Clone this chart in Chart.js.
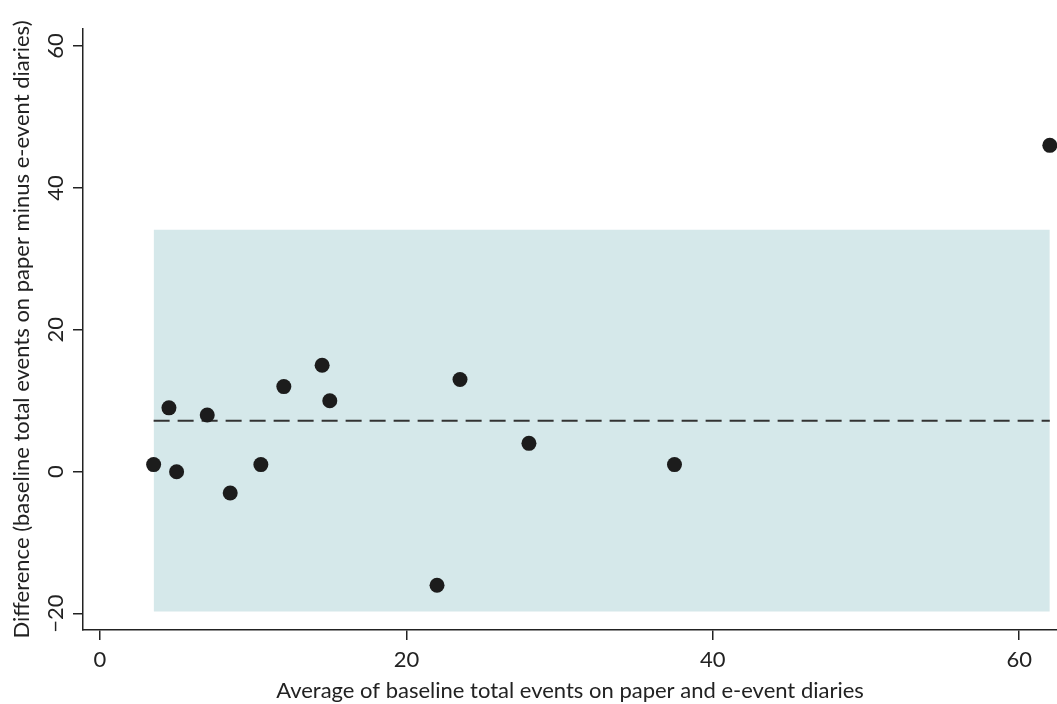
<!DOCTYPE html>
<html>
<head>
<meta charset="utf-8">
<script src="https://cdn.jsdelivr.net/npm/chart.js@4.4.1/dist/chart.umd.min.js"></script>
<style>
  html, body { margin: 0; padding: 0; background: #fff; }
  #wrap { width: 1057px; height: 704px; }
</style>
</head>
<body>
<div id="wrap"><canvas id="chart" width="1057" height="704"></canvas></div>
<script>
// データ
const averages = [3.5, 4.5, 5, 7, 8.5, 10.5, 12, 14.5, 15, 22, 23.5, 28, 37.5, 62];
const differences = [1, 9, 0, 8, -3, 1, 12, 15, 10, -16, 13, 4, 1, 46];
const meanDiff = 7.2;
const upperLoA = 34.1;
const lowerLoA = -19.7;
const bandX = [3.5, 62];

const xTicks = [0, 20, 40, 60];
const xTickLabels = ['0', '20', '40', '60'];
const yTicks = [-20, 0, 20, 40, 60];
const yTickLabels = ['\u221220', '0', '20', '40', '60'];

const xTitle = 'Average of baseline total events on paper and e-event diaries';
const yTitle = 'Difference (baseline total events on paper minus e-event diaries)';

const FONT = 'Lato';
const TEXT = '#222';
const INK = '#1c1c1c';

const points = averages.map((x, i) => ({ x: x, y: differences[i] }));

// Y軸の目盛ラベル（縦書き）を描くプラグイン
const yTickLabelPlugin = {
  id: 'yTickLabels',
  afterDraw(chart) {
    const scale = chart.scales.y;
    const ctx = chart.ctx;
    ctx.save();
    ctx.font = '22px ' + FONT;
    ctx.fillStyle = TEXT;
    ctx.textAlign = 'center';
    ctx.textBaseline = 'middle';
    yTicks.forEach((v, i) => {
      const y = scale.getPixelForValue(v);
      ctx.save();
      ctx.translate(scale.right - 27, y);
      ctx.rotate(-Math.PI / 2);
      ctx.fillText(yTickLabels[i], 0, 0);
      ctx.restore();
    });
    ctx.restore();
  }
};

const ctx = document.getElementById('chart').getContext('2d');
new Chart(ctx, {
  type: 'scatter',
  data: {
    datasets: [
      {
        label: 'points',
        data: points,
        backgroundColor: INK,
        borderWidth: 0,
        pointRadius: 7.5,
        pointHoverRadius: 7.5,
        clip: false
      },
      {
        label: 'mean',
        type: 'line',
        data: bandX.map(x => ({ x: x, y: meanDiff })),
        borderColor: '#333',
        borderWidth: 2,
        borderDash: [16, 8],
        pointRadius: 0,
        fill: false
      },
      {
        label: 'upper',
        type: 'line',
        data: bandX.map(x => ({ x: x, y: upperLoA })),
        borderWidth: 0,
        borderColor: 'rgba(0,0,0,0)',
        pointRadius: 0,
        backgroundColor: '#d5e8ea',
        fill: '+1'
      },
      {
        label: 'lower',
        type: 'line',
        data: bandX.map(x => ({ x: x, y: lowerLoA })),
        borderWidth: 0,
        borderColor: 'rgba(0,0,0,0)',
        pointRadius: 0,
        fill: false
      }
    ]
  },
  options: {
    responsive: false,
    animation: false,
    devicePixelRatio: 1,
    layout: { autoPadding: false, padding: { top: 29, right: 0, bottom: 0, left: 0 } },
    plugins: {
      legend: { display: false },
      tooltip: { enabled: false }
    },
    scales: {
      x: {
        type: 'linear',
        position: 'bottom',
        min: -1.11,
        max: 62.47,
        afterBuildTicks: (scale) => { scale.ticks = xTicks.map(v => ({ value: v })); },
        afterFit: (scale) => {
          scale.height = 74;
          scale.paddingLeft = 0;
          scale.paddingRight = 0;
        },
        grid: { drawOnChartArea: false, drawTicks: true, tickLength: 10, color: TEXT, lineWidth: 1.5 },
        border: { display: true, color: TEXT, width: 1.5 },
        ticks: {
          font: { family: FONT, size: 22 },
          color: TEXT,
          padding: 7,
          maxRotation: 0,
          callback: (v) => xTickLabels[xTicks.indexOf(v)]
        },
        title: {
          display: true,
          text: xTitle,
          font: { family: FONT, size: 22 },
          color: TEXT,
          padding: { top: 0, bottom: 0 }
        }
      },
      y: {
        type: 'linear',
        min: -22.31,
        max: 62.4,
        afterBuildTicks: (scale) => { scale.ticks = yTicks.map(v => ({ value: v })); },
        afterFit: (scale) => {
          scale.width = 83;
          scale.paddingTop = 0;
          scale.paddingBottom = 0;
        },
        grid: { drawOnChartArea: false, drawTicks: true, tickLength: 10, color: TEXT, lineWidth: 1.5 },
        border: { display: true, color: TEXT, width: 1.5 },
        ticks: { display: false },
        title: {
          display: true,
          text: yTitle,
          font: { family: FONT, size: 22 },
          color: TEXT,
          padding: { top: 9, bottom: 0 }
        }
      }
    }
  },
  plugins: [yTickLabelPlugin]
});
</script>
</body>
</html>
